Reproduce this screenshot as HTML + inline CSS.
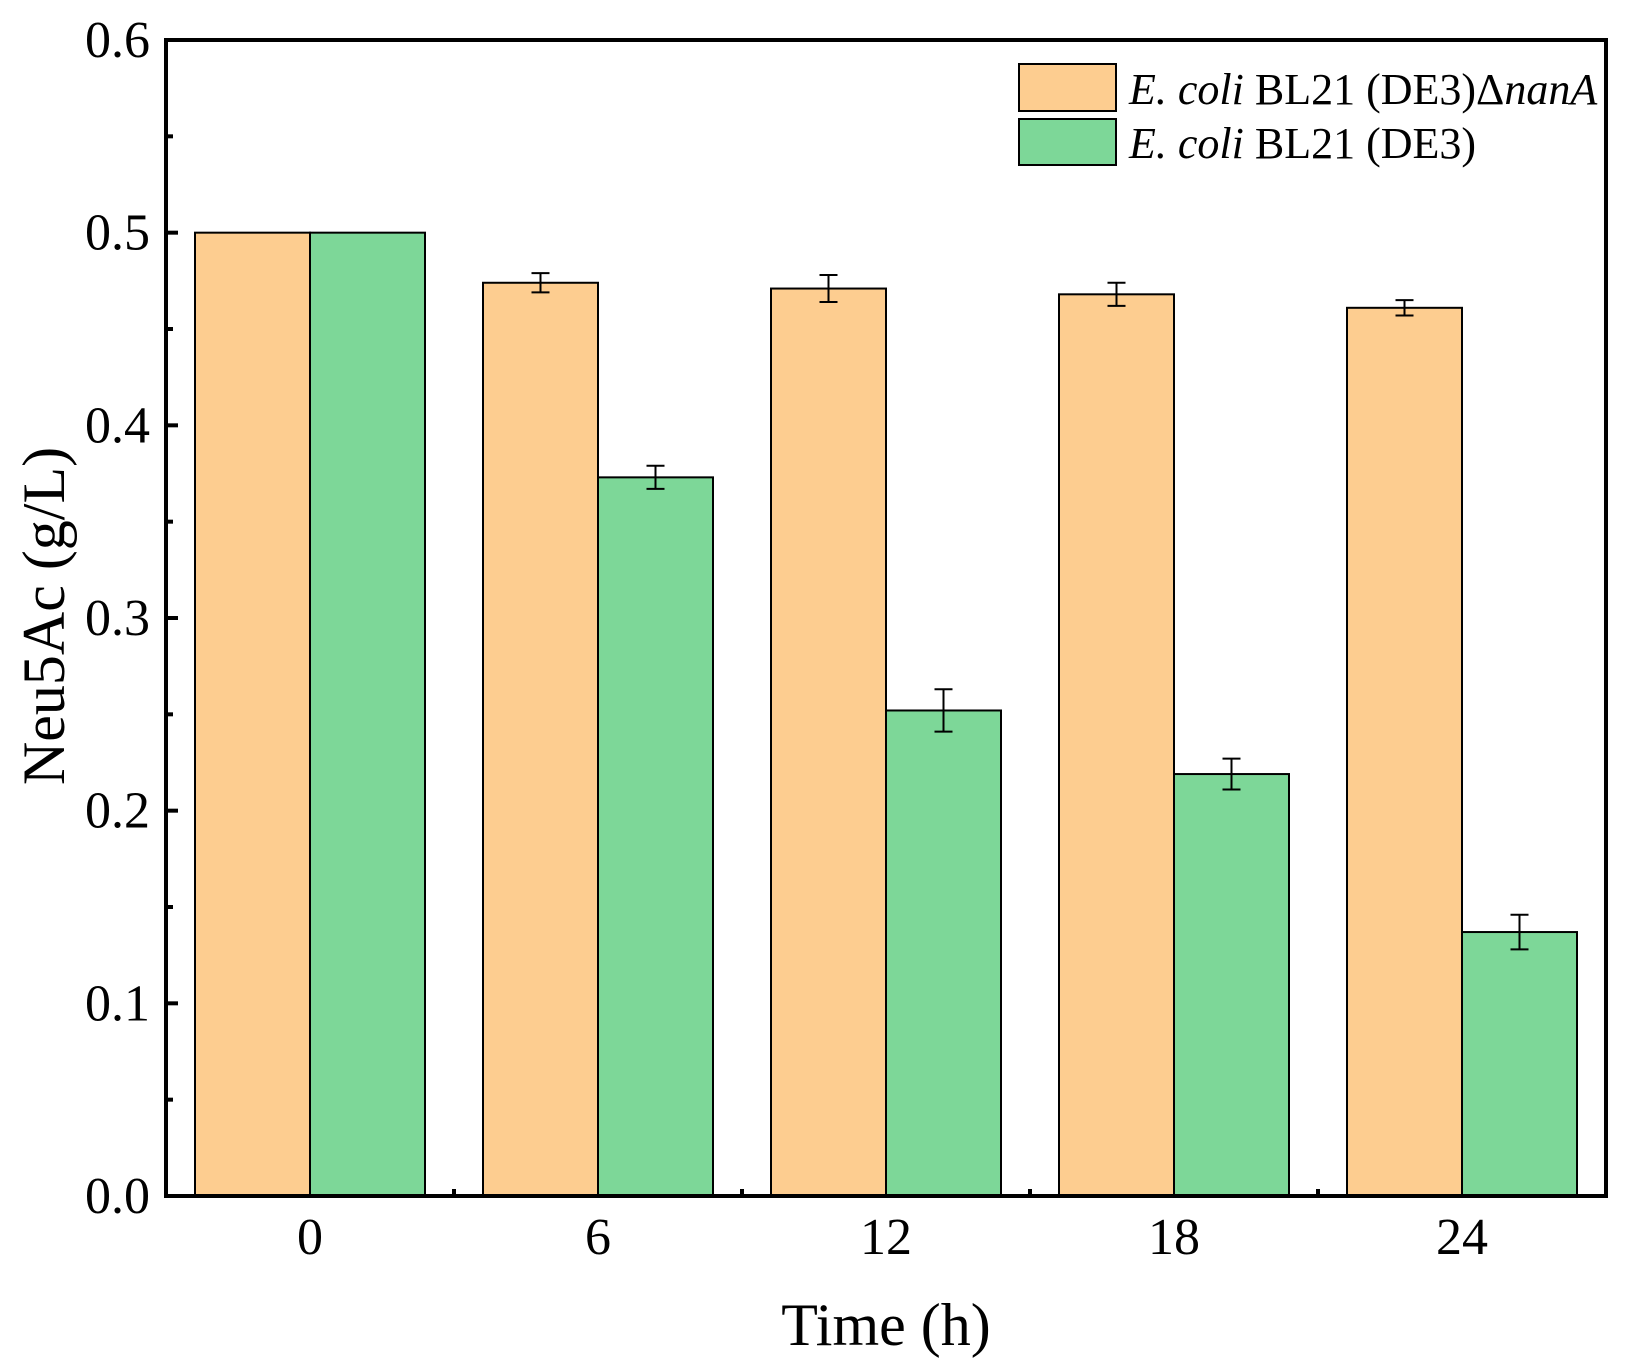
<!DOCTYPE html>
<html><head><meta charset="utf-8"><style>
body{margin:0;background:#fff}
svg{display:block;font-family:"Liberation Serif",serif}
</style></head><body>
<svg id="chart" width="1637" height="1368" viewBox="0 0 1637 1368" xmlns="http://www.w3.org/2000/svg">
<g id="bars"></g>
<g id="axes"></g>
<g>
<rect x="1019" y="64" width="97" height="47" fill="#fdcd90" stroke="#000" stroke-width="2"/>
<text x="1129" y="104" font-size="44"><tspan font-style="italic">E. coli</tspan> BL21 (DE3)Δ<tspan font-style="italic">nanA</tspan></text>
<rect x="1019" y="119" width="97" height="46" fill="#7dd798" stroke="#000" stroke-width="2"/>
<text x="1129" y="158" font-size="44"><tspan font-style="italic">E. coli</tspan> BL21 (DE3)</text>
</g>
<text x="886" y="1345" font-size="60" text-anchor="middle">Time (h)</text>
<text transform="translate(64,616) rotate(-90)" font-size="60" text-anchor="middle">Neu5Ac (g/L)</text>
</svg>
<script>
const categories = ["0","6","12","18","24"];
const nanaValues = [0.5,0.474,0.471,0.468,0.461];
const nanaErrors = [0,0.005,0.007,0.006,0.004];
const wtValues = [0.5,0.373,0.252,0.219,0.137];
const wtErrors = [0,0.006,0.011,0.008,0.009];
const yTicks = ["0.0","0.1","0.2","0.3","0.4","0.5","0.6"];

const NS="http://www.w3.org/2000/svg";
const L=166,R=1606,T=40,B=1196;
const ymax=0.6;
const y=v=>B-(v/ymax)*(B-T);
const step=(R-L)/categories.length;
const xc=i=>L+(i+0.5)*step;
const bw=115;
function mk(tag,attrs,parent){const e=document.createElementNS(NS,tag);for(const k in attrs)e.setAttribute(k,attrs[k]);parent.appendChild(e);return e;}
const bars=document.getElementById('bars');
const axes=document.getElementById('axes');
function drawBar(i,v,err,x0,fill,name){
  const r=mk('rect',{x:x0,y:y(v),width:bw,height:B-y(v),fill:fill,stroke:'#000','stroke-width':2},bars);
  
  
  if(err>0){
    const cx=x0+bw/2;
    const g=mk('path',{d:`M${cx},${y(v+err)}V${y(v-err)}M${cx-9},${y(v+err)}H${cx+9}M${cx-9},${y(v-err)}H${cx+9}`,stroke:'#000','stroke-width':2,fill:'none'},bars);
    
    
  }
}
categories.forEach((c,i)=>{
  drawBar(i,nanaValues[i],nanaErrors[i],xc(i)-bw,'#fdcd90','nana');
  drawBar(i,wtValues[i],wtErrors[i],xc(i),'#7dd798','wt');
  const t=mk('text',{x:xc(i),y:1254,'font-size':52,'text-anchor':'middle'},axes);
  t.textContent=c;
  
  
  if(i>0){mk('line',{x1:L+i*step,x2:L+i*step,y1:B,y2:B-7,stroke:'#000','stroke-width':4},axes);}
});
yTicks.forEach((s,i)=>{
  const v=parseFloat(s);
  const t=mk('text',{x:150,y:y(v)+17,'font-size':52,'text-anchor':'end'},axes);
  t.textContent=s;
  
  
  mk('line',{x1:L,x2:L+12,y1:y(v),y2:y(v),stroke:'#000','stroke-width':4},axes);
  if(i<yTicks.length-1){const m=y(v+0.05);mk('line',{x1:L,x2:L+7,y1:m,y2:m,stroke:'#000','stroke-width':4},axes);}
});
const f=mk('rect',{x:L,y:T,width:R-L,height:B-T,fill:'none',stroke:'#000','stroke-width':4},axes);


</script>
</body></html>
